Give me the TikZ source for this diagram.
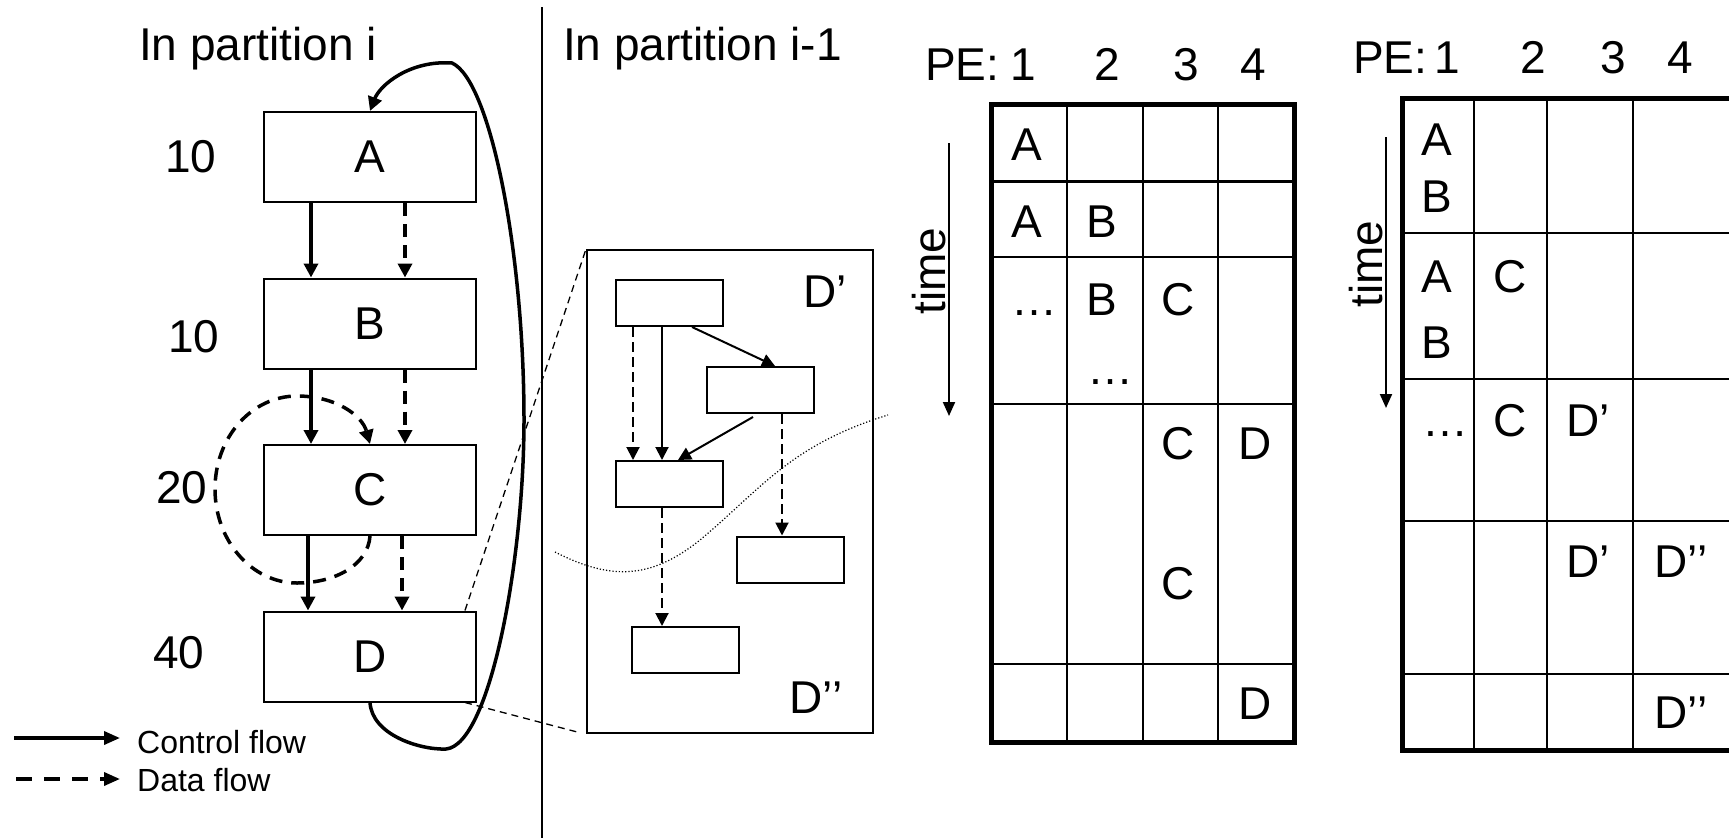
\documentclass[tikz,border=0pt]{standalone}
\usepackage{fontspec}
\setmainfont{Liberation Sans}
\usetikzlibrary{arrows.meta}
\begin{document}
\begin{tikzpicture}[x=1pt,y=-1pt,
  big/.style={font=\fontsize{46}{50}\selectfont},
  lbl/.style={big, inner sep=0pt, anchor=base},
  lgd/.style={font=\fontsize{32}{36}\selectfont, inner sep=0pt, anchor=base west},
  blk/.style={draw, line width=2pt, minimum width=212pt, minimum height=90pt, inner sep=0pt, big},
  sbox/.style={draw, line width=2pt, minimum width=107pt, minimum height=46pt, inner sep=0pt},
  tip/.style={-{Triangle[length=14pt,width=14pt]}},
  cflow/.style={line width=3.5pt, tip},
  dflow/.style={line width=3.5pt, tip, dash pattern=on 13pt off 8pt},
  stip/.style={-{Triangle[length=13pt,width=13pt]}},
  sc/.style={line width=2pt, stip},
  sd/.style={line width=2pt, stip, dash pattern=on 10pt off 5pt},
  tabline/.style={line width=2.5pt},
  tabframe/.style={line width=5pt},
  timearrow/.style={line width=2pt, -{Triangle[length=14pt,width=12pt]}},
]
\useasboundingbox (0,0) rectangle (1729,838);

% ---------- left panel: task graph of partition i ----------
\node[lbl, anchor=base west] (t1) at (139,60) {In partition i};

\node[blk] (A) at (370,157) {A};
\node[blk] (B) at (370,323.5) {B};
\node[blk] (C) at (370,490) {C};
\node[blk] (D) at (370,656.5) {D};

\node[lbl] (wA) at (191,172) {10};
\node[lbl] (wB) at (194,352) {10};
\node[lbl] (wC) at (182,503) {20};
\node[lbl] (wD) at (179,668) {40};

\draw[cflow] ([xshift=-59pt]A.south) -- ([xshift=-59pt]B.north);
\draw[dflow] ([xshift=35pt]A.south) -- ([xshift=35pt]B.north);
\draw[cflow] ([xshift=-59pt]B.south) -- ([xshift=-59pt]C.north);
\draw[dflow] ([xshift=35pt]B.south) -- ([xshift=35pt]C.north);
\draw[cflow] ([xshift=-62pt]C.south) -- ([xshift=-62pt]D.north);
\draw[dflow] ([xshift=32pt]C.south) -- ([xshift=32pt]D.north);

% self loop on C
\draw[dflow, dash pattern=on 13pt off 9pt] (C.south)
  .. controls (368,565) and (335,583) .. (297,583)
  .. controls (252,583) and (215,541) .. (215,489)
  .. controls (215,437) and (252,396) .. (297,396)
  .. controls (335,396) and (362,415) .. (C.north);

% back edge from D to A
\draw[cflow] (D.south)
  .. controls (372,735) and (420,750) .. (446,749)
  .. controls (490,745) and (524,560) .. (524,420)
  .. controls (524,250) and (490,80) .. (452,63)
  .. controls (410,60) and (380,85) .. (A.north);

% legend
\coordinate (lc1) at (14,738);
\coordinate (lc2) at (120,738);
\coordinate (ld1) at (16,779);
\coordinate (ld2) at (120,779);
\draw[line width=3.5pt, -{Triangle[length=16pt,width=13pt]}] (lc1) -- (lc2);
\draw[line width=3.5pt, -{Triangle[length=16pt,width=13pt]}, dash pattern=on 16pt off 12pt] (ld1) -- (ld2);
\node[lgd] (lgc) at (137,753) {Control flow};
\node[lgd] (lgd) at (137,791) {Data flow};

% separator
\coordinate (sepT) at (542,7);
\coordinate (sepB) at (542,838);
\draw[line width=1.8pt] (sepT) -- (sepB);

% ---------- middle panel: inside D ----------
\node[lbl, anchor=base west] (t2) at (563,60) {In partition i-1};

\node[draw, line width=2pt, minimum width=286pt, minimum height=483pt, inner sep=0pt] (DD) at (730,491.5) {};
\node[lbl] (dp) at (825,307) {D’};
\node[lbl] (dpp) at (816,713) {D’’};

\node[sbox] (s1) at (669.5,303) {};
\node[sbox] (s2) at (760,390) {};
\node[sbox] (s3) at (669.5,484) {};
\node[sbox] (s4) at (790,559.5) {};
\node[sbox] (s5) at (685,650) {};

\draw[sd] ([xshift=-36.5pt]s1.south) -- ([xshift=-36.5pt]s3.north);
\draw[sc] ([xshift=-7.5pt]s1.south) -- ([xshift=-7.5pt]s3.north);
\draw[sc] ([xshift=22.5pt]s1.south) -- ([xshift=15pt]s2.north);
\draw[sc] ([xshift=-7pt,yshift=-3pt]s2.south) -- ([xshift=8.5pt]s3.north);
\draw[sd] ([xshift=22pt]s2.south) -- ([xshift=-8pt]s4.north);
\draw[sd] ([xshift=-7.5pt]s3.south) -- ([xshift=-23pt]s5.north);

% cut line between D' and D''
\draw[line width=1.2pt, dash pattern=on 1.2pt off 2pt]
  (555,552) .. controls (610,580) and (650,580) .. (700,540)
  .. controls (760,490) and (790,445) .. (888,415);

% zoom lines from D
\draw[line width=1.3pt, dash pattern=on 7pt off 5pt] ([xshift=-12pt]D.north east) -- (DD.north west);
\draw[line width=1.3pt, dash pattern=on 7pt off 5pt] ([xshift=-12pt]D.south east) -- ([xshift=-5pt,yshift=1pt]DD.south west);

% ---------- schedule 1 ----------
\node[lbl, anchor=base west] (pe1) at (925,80) {PE:};
\node[lbl] (p11) at (1023,80) {1};
\node[lbl] (p12) at (1107,80) {2};
\node[lbl] (p13) at (1186,80) {3};
\node[lbl] (p14) at (1253,80) {4};

\node[lbl, rotate=90] (tm1) at (945,271) {time};
\coordinate (ta1) at (949,143);
\coordinate (tb1) at (949,416);
\draw[timearrow] (ta1) -- (tb1);

\foreach \xx in {1067,1143,1218} \draw[tabline] (\xx,104) -- (\xx,742);
\foreach \yy in {181.5,257,404,664} \draw[tabline] (991,\yy) -- (1294,\yy);
\draw[tabframe] (991,104) rectangle (1294,742);

\node[lbl] (a1) at (1027,160) {A};
\node[lbl] (a2) at (1027,237) {A};
\node[lbl] (b2) at (1102,237) {B};
\node[lbl] (e3) at (1034,315) {…};
\node[lbl] (b3) at (1102,315) {B};
\node[lbl] (c3) at (1178,315) {C};
\node[lbl] (e3b) at (1110,384) {…};
\node[lbl] (c4) at (1178,459) {C};
\node[lbl] (d4) at (1255,459) {D};
\node[lbl] (c4b) at (1178,599) {C};
\node[lbl] (d5) at (1255,719) {D};

% ---------- schedule 2 ----------
\node[lbl, anchor=base west] (pe2) at (1353,73) {PE:};
\node[lbl] (p21) at (1447,73) {1};
\node[lbl] (p22) at (1533,73) {2};
\node[lbl] (p23) at (1613,73) {3};
\node[lbl] (p24) at (1680,73) {4};

\node[lbl, rotate=90] (tm2) at (1382,264) {time};
\coordinate (ta2) at (1386,137);
\coordinate (tb2) at (1386,408);
\draw[timearrow] (ta2) -- (tb2);

\begin{scope}
\clip (0,0) rectangle (1729,838);
\foreach \xx in {1474,1547,1633} \draw[tabline] (\xx,98) -- (\xx,750);
\foreach \yy in {233,379,521,674} \draw[tabline] (1402,\yy) -- (1780,\yy);
\draw[tabframe] (1402,98) rectangle (1780,750);
\end{scope}

\node[lbl] (xa1) at (1437,155) {A};
\node[lbl] (xb1) at (1437,212) {B};
\node[lbl] (xa2) at (1437,292) {A};
\node[lbl] (xb2) at (1437,358) {B};
\node[lbl] (xc2) at (1510,292) {C};
\node[lbl] (xe3) at (1445,436) {…};
\node[lbl] (xc3) at (1510,436) {C};
\node[lbl] (xd3) at (1588,436) {D’};
\node[lbl] (xd4) at (1588,577) {D’};
\node[lbl] (xdd4) at (1681,577) {D’’};
\node[lbl] (xdd5) at (1681,728) {D’’};
\end{tikzpicture}
\end{document}
